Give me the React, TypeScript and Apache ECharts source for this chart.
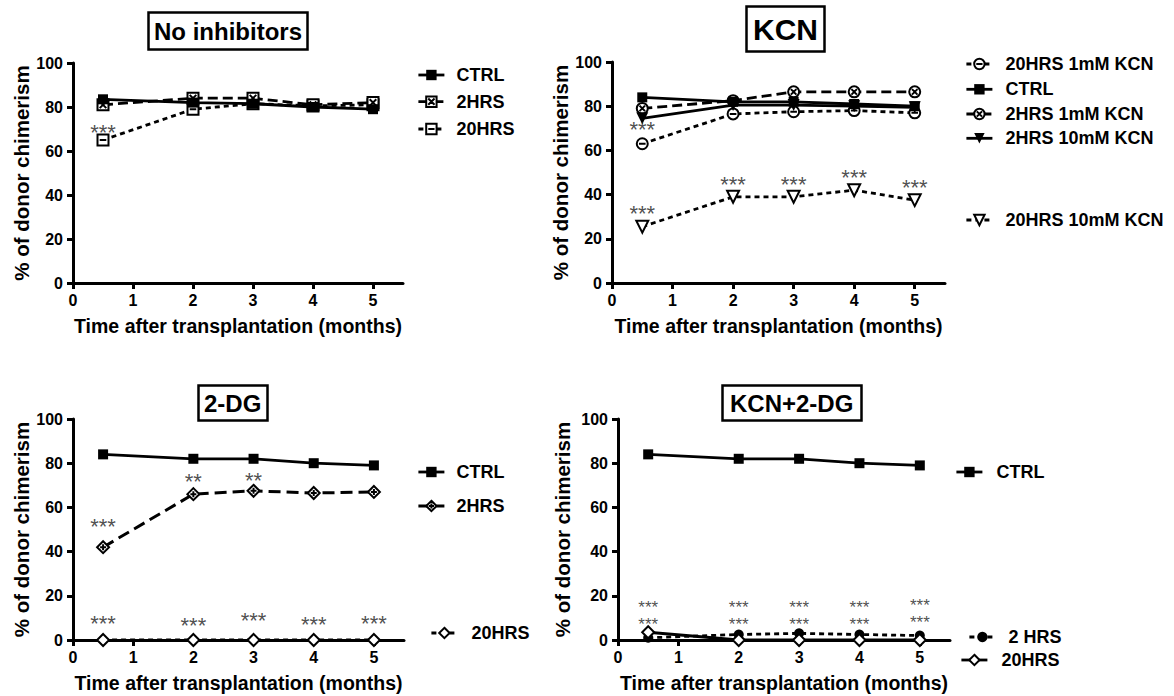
import { useEffect, useRef } from 'react';
import * as echarts from 'echarts';

const FONT = "'Liberation Sans', Arial, sans-serif";

// time points (months after transplantation)
const months = [0.5, 2, 3, 4, 5];
const xTicks = [0, 1, 2, 3, 4, 5];

// Panel 1: No inhibitors
const noInhCtrl = [83.5, 82, 81.5, 80, 79];
const noInh2h = [81, 84, 84, 81, 82];
const noInh20h = [65, 79, 81.5, 80.5, 81];

// Panel 2: KCN
const kcn20h1mM = [63, 76.5, 77.5, 78, 77];
const kcnCtrl = [84, 82, 82, 81, 80];
const kcn2h1mM = [79, 82.5, 86.5, 86.5, 86.5];
const kcn2h10mM = [74.5, 80.5, 80.5, 80, 79.5];
const kcn20h10mM = [25.5, 39, 39, 42, 37.5];

// Panel 3: 2-DG
const dgCtrl = [84, 82, 82, 80, 79];
const dg2h = [42, 66, 67.5, 66.5, 67];
const dg20h = [0, 0, 0, 0, 0];

// Panel 4: KCN+2-DG
const comboCtrl = [84, 82, 82, 80, 79];
const combo2h = [1, 2.5, 3, 2.5, 2];
const combo20h = [3.5, 0, 0, 0, 0];

// significance marks [x, y, text]
const noInhStars: [number, number, string][] = [[0.5, 68.3, '***']];
const kcnStars: [number, number, string][] = [
  [0.5, 69.3, '***'], [0.5, 31.6, '***'], [2, 44.4, '***'], [3, 44.7, '***'], [4, 47.7, '***'], [5, 43.1, '***'],
];
const dgStars: [number, number, string][] = [
  [0.5, 51.4, '***'], [2, 71.5, '**'], [3, 72.1, '**'],
  [0.5, 7.3, '***'], [2, 6.5, '***'], [3, 8.8, '***'], [4, 6.9, '***'], [5, 7.3, '***'],
];
const comboStars: [number, number, string][] = [
  [0.5, 10.8, '***\n***'], [2, 10.8, '***\n***'], [3, 10.8, '***\n***'], [4, 10.8, '***\n***'], [5, 11.8, '***\n***'],
];

const SQ = 'M0,0L10,0L10,10L0,10Z';
const CIRC = 'M0,5A5,5,0,1,1,10,5A5,5,0,1,1,0,5Z';
const symSquareX = 'path://' + SQ + 'M2,2L8,8M8,2L2,8';
const symSquareLine = 'path://' + SQ + 'M2,5L8,5';
const symCircleMinus = 'path://' + CIRC + 'M2,5L8,5';
const symCircleX = 'path://' + CIRC + 'M2.5,2.5L7.5,7.5M7.5,2.5L2.5,7.5';
const symDiamondPlus = 'path://M5,0L10,5L5,10L0,5ZM5,2.5L5,7.5M2.5,5L7.5,5';

const LONG = [10, 5];
const SHORT = [5, 4];

type LineOpt = {
  symbol: string; size?: number; rotate?: number; filled?: boolean; dash?: number[] | 'solid'; width?: number; z?: number;
};

const lineSeries = (name: string, values: number[], gi: number, o: LineOpt) => ({
  type: 'line',
  name,
  xAxisIndex: gi,
  yAxisIndex: gi,
  data: months.map((m, i) => [m, values[i]]),
  symbol: o.symbol,
  symbolSize: o.size ?? 11,
  symbolRotate: o.rotate ?? 0,
  showAllSymbol: true,
  lineStyle: { color: '#000', width: o.width ?? 2.8, type: o.dash ?? 'solid' },
  itemStyle: o.filled
    ? { color: '#000', borderColor: '#000', borderWidth: 0 }
    : { color: '#fff', borderColor: '#000', borderWidth: 2 },
  emphasis: { disabled: true },
  z: o.z ?? 2,
});

const starSeries = (gi: number, arr: [number, number, string][], size = 22, lh = 14) => ({
  type: 'scatter',
  xAxisIndex: gi,
  yAxisIndex: gi,
  symbolSize: 1,
  silent: true,
  itemStyle: { color: 'rgba(0,0,0,0)' },
  data: arr.map(([x, y, t]) => ({ value: [x, y], label: { formatter: t } })),
  label: { show: true, position: 'inside', fontSize: size, lineHeight: lh, color: '#222', fontFamily: FONT },
  z: 5,
});

const legendItem = (name: string, label: string, left: number, cy: number, pad: number) => ({
  data: [name],
  left,
  top: cy - 9,
  padding: 0,
  itemWidth: 26,
  itemHeight: 13,
  selectedMode: false,
  formatter: label,
  lineStyle: { width: 2.8 },
  textStyle: { fontSize: 18, fontWeight: 'bold', fontFamily: FONT, color: '#000', padding: [0, 0, 0, pad] },
});

const xAx = (gi: number) => ({
  type: 'value',
  gridIndex: gi,
  min: 0,
  max: 5.5,
  interval: 1,
  name: 'Time after transplantation (months)',
  nameLocation: 'middle',
  nameGap: 33,
  nameTextStyle: { fontSize: 19.5, fontWeight: 'bold', fontFamily: FONT, color: '#000' },
  axisLine: { show: true, onZero: false, lineStyle: { color: '#000', width: 3 } },
  axisTick: { show: true, length: 6, customValues: xTicks, lineStyle: { color: '#000', width: 3 } },
  axisLabel: { fontSize: 16, fontWeight: 'bold', fontFamily: FONT, color: '#000', margin: 9, customValues: xTicks },
  splitLine: { show: false },
});

const yAx = (gi: number, gap: number) => ({
  type: 'value',
  gridIndex: gi,
  min: 0,
  max: 100,
  interval: 20,
  name: '% of donor chimerism',
  nameLocation: 'middle',
  nameGap: gap,
  nameTextStyle: { fontSize: 20.5, fontWeight: 'bold', fontFamily: FONT, color: '#000' },
  axisLine: { show: true, lineStyle: { color: '#000', width: 3 } },
  axisTick: { show: true, length: 6, lineStyle: { color: '#000', width: 3 } },
  axisLabel: { fontSize: 16, fontWeight: 'bold', fontFamily: FONT, color: '#000', margin: 10 },
  splitLine: { show: false },
});

const titleBox = (text: string, left: number, top: number, size: number, pad: number[]) => ({
  text,
  left,
  top,
  padding: pad,
  borderColor: '#000',
  borderWidth: 2.5,
  textStyle: { fontSize: size, fontWeight: 'bold', fontFamily: FONT, color: '#000' },
});

export default function App() {
  const ref = useRef<HTMLDivElement>(null);
  useEffect(() => {
    if (!ref.current) return;
    const chart = echarts.init(ref.current, undefined, { renderer: 'svg' });
    chart.setOption({
      animation: false,
      backgroundColor: '#fff',
      title: [
        titleBox('No inhibitors', 148, 12, 24, [7, 6]),
        titleBox('KCN', 746, 6, 30, [8, 7]),
        titleBox('2-DG', 198, 385, 24, [6, 6]),
        titleBox('KCN+2-DG', 722, 385, 24, [6, 8]),
      ],
      grid: [
        { left: 73, top: 63, width: 330, height: 220 },
        { left: 612, top: 62, width: 333, height: 221 },
        { left: 73, top: 419, width: 331, height: 221 },
        { left: 618, top: 419, width: 332, height: 221 },
      ],
      xAxis: [xAx(0), xAx(1), xAx(2), xAx(3)],
      yAxis: [yAx(0, 40), yAx(1, 39), yAx(2, 40), yAx(3, 45)],
      legend: [
        legendItem('p1-ctrl', 'CTRL', 417, 75, 7),
        legendItem('p1-2h', '2HRS', 417, 101.7, 7),
        legendItem('p1-20h', '20HRS', 417, 129, 7),
        legendItem('p2-20h1', '20HRS 1mM KCN', 965, 64, 8),
        legendItem('p2-ctrl', 'CTRL', 965, 89.3, 8),
        legendItem('p2-2h1', '2HRS 1mM KCN', 965, 114, 8),
        legendItem('p2-2h10', '2HRS 10mM KCN', 965, 138.3, 8),
        legendItem('p2-20h10', '20HRS 10mM KCN', 965, 220, 8),
        legendItem('p3-ctrl', 'CTRL', 417, 472, 7),
        legendItem('p3-2h', '2HRS', 417, 506, 7),
        legendItem('p3-20h', '20HRS', 430, 633, 9),
        legendItem('p4-ctrl', 'CTRL', 955, 472, 9),
        legendItem('p4-2h', '2 HRS', 968, 637, 8),
        legendItem('p4-20h', '20HRS', 960, 660, 9),
      ],
      series: [
        lineSeries('p1-20h', noInh20h, 0, { symbol: symSquareLine, dash: SHORT }),
        lineSeries('p1-2h', noInh2h, 0, { symbol: symSquareX, dash: LONG }),
        lineSeries('p1-ctrl', noInhCtrl, 0, { symbol: 'rect', filled: true, size: 10, z: 3 }),
        starSeries(0, noInhStars),

        lineSeries('p2-20h1', kcn20h1mM, 1, { symbol: symCircleMinus, dash: SHORT }),
        lineSeries('p2-ctrl', kcnCtrl, 1, { symbol: 'rect', filled: true, size: 10, z: 3 }),
        lineSeries('p2-2h1', kcn2h1mM, 1, { symbol: symCircleX, dash: LONG }),
        lineSeries('p2-2h10', kcn2h10mM, 1, { symbol: 'triangle', rotate: 180, filled: true, size: 12 }),
        lineSeries('p2-20h10', kcn20h10mM, 1, { symbol: 'triangle', rotate: 180, size: 12, dash: SHORT }),
        starSeries(1, kcnStars),

        lineSeries('p3-ctrl', dgCtrl, 2, { symbol: 'rect', filled: true, size: 10 }),
        lineSeries('p3-2h', dg2h, 2, { symbol: symDiamondPlus, size: 12, dash: [12, 6], width: 3 }),
        lineSeries('p3-20h', dg20h, 2, { symbol: 'diamond', size: 12, dash: SHORT }),
        starSeries(2, dgStars),

        lineSeries('p4-ctrl', comboCtrl, 3, { symbol: 'rect', filled: true, size: 10 }),
        lineSeries('p4-2h', combo2h, 3, { symbol: 'circle', filled: true, size: 10, dash: SHORT }),
        lineSeries('p4-20h', combo20h, 3, { symbol: 'diamond', size: 12 }),
        starSeries(3, comboStars, 17, 17),
      ],
    });
    return () => chart.dispose();
  }, []);
  return <div ref={ref} style={{ position: 'absolute', left: 0, top: 0, width: 1174, height: 696 }} />;
}
